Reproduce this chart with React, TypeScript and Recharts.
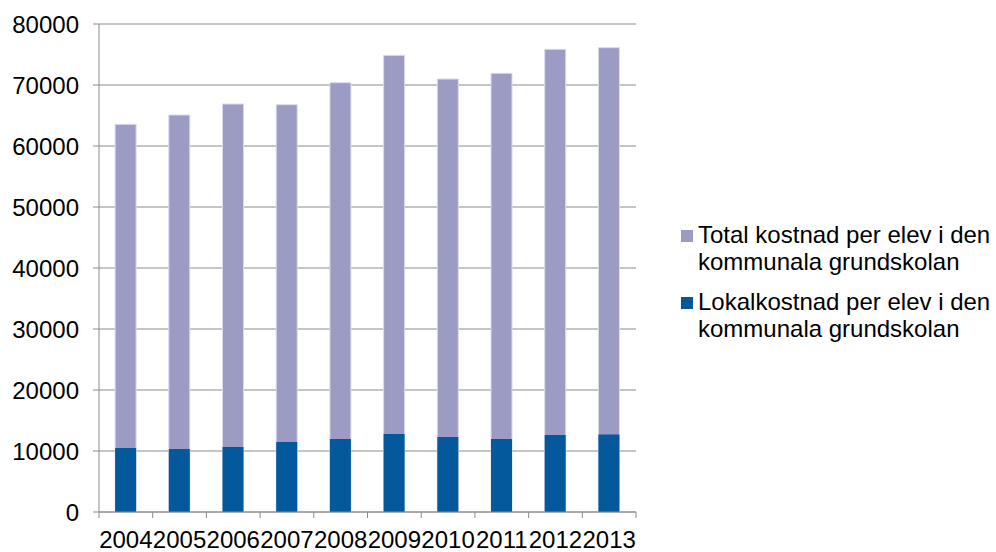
import React from "react";
import { BarChart, Bar, XAxis, YAxis, CartesianGrid } from "recharts";

const years = ["2004", "2005", "2006", "2007", "2008", "2009", "2010", "2011", "2012", "2013"];
const totalCost = [63560, 65080, 66890, 66770, 70380, 74870, 70980, 71920, 75850, 76120];
const localCost = [10500, 10340, 10670, 11490, 11980, 12800, 12310, 11980, 12640, 12690];
const yTicks = [0, 10000, 20000, 30000, 40000, 50000, 60000, 70000, 80000];
const legendLines = [
  ["Total kostnad per elev i den", "kommunala grundskolan"],
  ["Lokalkostnad per elev i den", "kommunala grundskolan"],
];

const colors = { total: "#9C9BC4", local: "#03599C", grid: "#8C8C8C" };
const font = "'Liberation Sans', Arial, sans-serif";

const data = years.map((year, i) => ({ year, total: totalCost[i], local: localCost[i] }));

const W = 996;
const H = 552;
const margin = { top: 24, right: 360, bottom: 0, left: 0 };
const yWidth = 99;
const band = (W - margin.left - margin.right - yWidth) / years.length;

// category labels plus the little tick marks between the years
const YearTick = (props: any) => {
  const { x, y, payload, index } = props;
  const left = x - band / 2;
  return (
    <g>
      <line x1={left} y1={y} x2={left} y2={y + 6} stroke={colors.grid} />
      {index === years.length - 1 && (
        <line x1={x + band / 2} y1={y} x2={x + band / 2} y2={y + 6} stroke={colors.grid} />
      )}
      <text x={x} y={y + 36} textAnchor="middle" fontSize={24} fontFamily={font} fill="#000">
        {payload.value}
      </text>
    </g>
  );
};

const App = () => {
  const swatch = [colors.total, colors.local];
  return (
    <div style={{ position: "absolute", left: 0, top: 0, width: W, height: H, background: "#fff" }}>
      <BarChart width={W} height={H} data={data} margin={margin} barCategoryGap="30%">
        <CartesianGrid vertical={false} stroke={colors.grid} />
        <XAxis
          xAxisId="main"
          dataKey="year"
          height={40}
          stroke={colors.grid}
          tickLine={false}
          tickSize={0}
          tickMargin={0}
          tick={<YearTick />}
        />
        <XAxis xAxisId="overlay" dataKey="year" hide />
        <YAxis
          width={yWidth}
          domain={[0, 80000]}
          ticks={yTicks}
          interval={0}
          stroke={colors.grid}
          tickSize={6}
          tickMargin={14}
          tick={{ fill: "#000", fontSize: 24, fontFamily: font }}
        />
        <Bar xAxisId="main" dataKey="total" fill={colors.total} stroke="#DADAEE" strokeWidth={1} isAnimationActive={false} />
        <Bar xAxisId="overlay" dataKey="local" fill={colors.local} isAnimationActive={false} />
      </BarChart>
      {legendLines.map((lines, i) => (
        <div
          key={i}
          style={{
            position: "absolute",
            left: 681,
            top: i === 0 ? 221 : 288,
            fontFamily: font,
            fontSize: 24,
            lineHeight: "27px",
            color: "#000",
          }}
        >
          <span
            style={{
              position: "absolute",
              left: 0,
              top: 9,
              width: 12,
              height: 12,
              background: swatch[i],
            }}
          />
          <div style={{ paddingLeft: 17, whiteSpace: "nowrap" }}>
            {lines[0]}
            <br />
            {lines[1]}
          </div>
        </div>
      ))}
    </div>
  );
};

export default App;
